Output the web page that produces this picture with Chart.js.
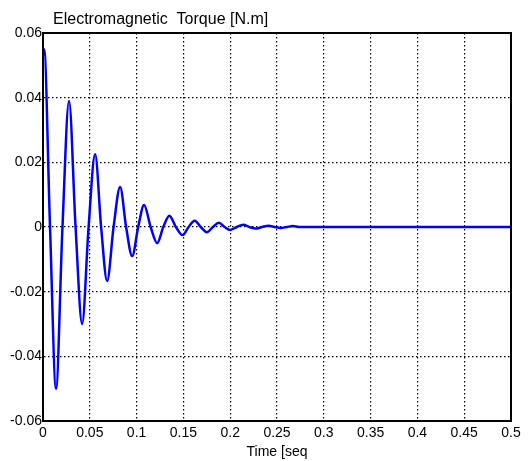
<!DOCTYPE html>
<html>
<head>
<meta charset="utf-8">
<script src="https://cdn.jsdelivr.net/npm/chart.js@4.4.1/dist/chart.umd.min.js"></script>
<style>
  body { margin: 0; background: #fff; }
  #wrap { width: 529px; height: 461px; }
</style>
</head>
<body>
<div id="wrap"><canvas id="torqueChart" width="529" height="461"></canvas></div>
<script>
// values (peaks, troughs, zero crossings)
var timeValues = [0, 0.0012, 0.0075, 0.0139, 0.0208, 0.0278, 0.0348, 0.0418, 0.0487, 0.0557,
    0.0621, 0.0685, 0.0754, 0.0824, 0.0888, 0.0953, 0.1017, 0.108, 0.115, 0.122,
    0.1285, 0.135, 0.142, 0.149, 0.1555, 0.162, 0.1685, 0.175, 0.1815, 0.188,
    0.194, 0.200, 0.207, 0.214, 0.2205, 0.227, 0.234, 0.241, 0.2475, 0.254,
    0.2605, 0.267, 0.2735, 0.28, 0.5];
var torqueValues = [0.053, 0.055, 0, -0.050, 0, 0.039, 0, -0.030, 0, 0.0225,
    0, -0.0167, 0, 0.0124, 0, -0.009, 0, 0.0068, 0, -0.005,
    0, 0.0035, 0, -0.0025, 0, 0.0019, 0, -0.0016, 0, 0.0013,
    0, -0.0009, 0, 0.0007, 0, -0.0005, 0, 0.0004, 0, -0.0003,
    0, 0.0003, 0, 0, 0];
var xTickLabels = ['0', '0.05', '0.1', '0.15', '0.2', '0.25', '0.3', '0.35', '0.4', '0.45', '0.5'];
var yTickLabels = ['-0.06', '-0.04', '-0.02', '0', '0.02', '0.04', '0.06'];

var points = [];
for (var i = 0; i < timeValues.length; i++) {
    points.push({ x: timeValues[i], y: torqueValues[i] });
}

var tickFont = { family: 'Liberation Sans', size: 14 };

// title text + black box round the plot, like matlab
var framePlugin = {
    id: 'frame',
    afterDraw: function (chart) {
        var ctx = chart.ctx, a = chart.chartArea;
        ctx.save();
        ctx.strokeStyle = '#000';
        ctx.lineWidth = 2;
        ctx.strokeRect(a.left, a.top, a.right - a.left, a.bottom - a.top);
        ctx.fillStyle = '#000';
        ctx.font = '16px "Liberation Sans"';
        ctx.textBaseline = 'alphabetic';
        ctx.fillText('Electromagnetic  Torque [N.m]', 53, 24);
        ctx.restore();
    }
};

var ctx = document.getElementById('torqueChart').getContext('2d');
var torqueChart = new Chart(ctx, {
    type: 'line',
    data: {
        datasets: [{
            label: 'Electromagnetic Torque',
            data: points,
            borderColor: 'rgb(0, 0, 255)',
            borderWidth: 2.5,
            pointRadius: 0,
            fill: false,
            cubicInterpolationMode: 'monotone'
        }]
    },
    options: {
        responsive: false,
        animation: false,
        layout: { padding: { top: 33, right: 18, left: 0, bottom: 0 } },
        plugins: {
            legend: { display: false },
            title: { display: false },
            tooltip: { enabled: false }
        },
        scales: {
            x: {
                type: 'linear',
                min: 0,
                max: 0.5,
                afterFit: function (scale) { scale.height = 40; },
                ticks: {
                    stepSize: 0.05,
                    color: '#000',
                    font: tickFont,
                    padding: 4,
                    maxRotation: 0,
                    autoSkip: false,
                    callback: function (v, i) { return xTickLabels[i]; }
                },
                grid: { color: '#000', lineWidth: 1.2, drawTicks: false },
                border: { color: '#000', width: 2, dash: [1.5, 2.5] },
                title: {
                    display: true,
                    text: 'Time [seq',
                    color: '#000',
                    font: tickFont,
                    padding: { top: 0, bottom: 0 }
                }
            },
            y: {
                min: -0.06,
                max: 0.06,
                afterFit: function (scale) { scale.width = 43; },
                ticks: {
                    stepSize: 0.02,
                    color: '#000',
                    font: tickFont,
                    padding: 1,
                    callback: function (v, i) { return yTickLabels[i]; }
                },
                grid: { color: '#000', lineWidth: 1.2, drawTicks: false },
                border: { color: '#000', width: 2, dash: [1.5, 2.5] }
            }
        }
    },
    plugins: [framePlugin]
});
</script>
</body>
</html>
